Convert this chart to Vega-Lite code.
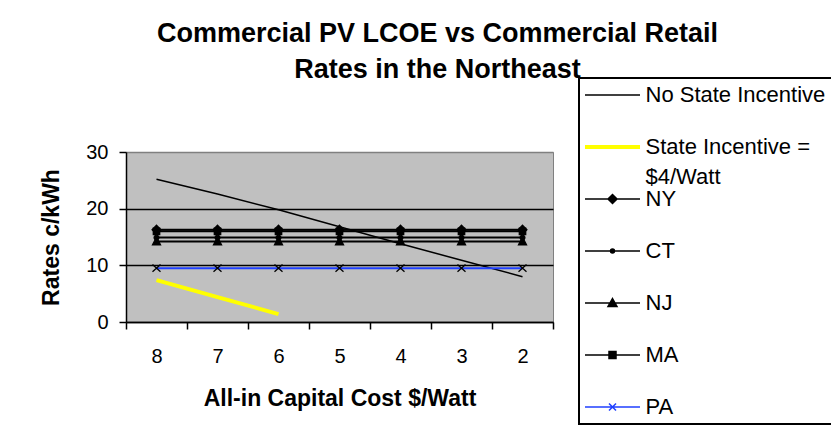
{
  "$schema": "https://vega.github.io/schema/vega-lite/v6.json",
  "width": 427,
  "height": 170,
  "autosize": {"type": "none"},
  "padding": {"left": 126, "top": 152, "right": 278, "bottom": 119},
  "background": "white",
  "title": {
    "text": ["Commercial PV LCOE vs Commercial Retail", "Rates in the Northeast"],
    "font": "Liberation Sans",
    "fontSize": 27,
    "fontWeight": "bold",
    "color": "black",
    "lineHeight": 36,
    "anchor": "middle",
    "frame": "group",
    "dx": 98,
    "offset": -7
  },
  "config": {
    "font": "Liberation Sans",
    "view": {"fill": "#C0C0C0", "stroke": "#808080", "strokeWidth": 1}
  },
  "data": {
    "values": [
      {"cost": 8, "series": "No State Incentive", "rate": 25.2},
      {"cost": 7, "series": "No State Incentive", "rate": 22.6},
      {"cost": 6, "series": "No State Incentive", "rate": 19.8},
      {"cost": 5, "series": "No State Incentive", "rate": 16.8},
      {"cost": 4, "series": "No State Incentive", "rate": 13.8},
      {"cost": 3, "series": "No State Incentive", "rate": 10.9},
      {"cost": 2, "series": "No State Incentive", "rate": 8.0},
      {"cost": 8, "series": "State Incentive = $4/Watt", "rate": 7.4},
      {"cost": 7, "series": "State Incentive = $4/Watt", "rate": 4.4},
      {"cost": 6, "series": "State Incentive = $4/Watt", "rate": 1.4},
      {"cost": 8, "series": "NY", "rate": 16.3},
      {"cost": 7, "series": "NY", "rate": 16.3},
      {"cost": 6, "series": "NY", "rate": 16.3},
      {"cost": 5, "series": "NY", "rate": 16.3},
      {"cost": 4, "series": "NY", "rate": 16.3},
      {"cost": 3, "series": "NY", "rate": 16.3},
      {"cost": 2, "series": "NY", "rate": 16.3},
      {"cost": 8, "series": "CT", "rate": 14.9},
      {"cost": 7, "series": "CT", "rate": 14.9},
      {"cost": 6, "series": "CT", "rate": 14.9},
      {"cost": 5, "series": "CT", "rate": 14.9},
      {"cost": 4, "series": "CT", "rate": 14.9},
      {"cost": 3, "series": "CT", "rate": 14.9},
      {"cost": 2, "series": "CT", "rate": 14.9},
      {"cost": 8, "series": "NJ", "rate": 14.2},
      {"cost": 7, "series": "NJ", "rate": 14.2},
      {"cost": 6, "series": "NJ", "rate": 14.2},
      {"cost": 5, "series": "NJ", "rate": 14.2},
      {"cost": 4, "series": "NJ", "rate": 14.2},
      {"cost": 3, "series": "NJ", "rate": 14.2},
      {"cost": 2, "series": "NJ", "rate": 14.2},
      {"cost": 8, "series": "MA", "rate": 16.0},
      {"cost": 7, "series": "MA", "rate": 16.0},
      {"cost": 6, "series": "MA", "rate": 16.0},
      {"cost": 5, "series": "MA", "rate": 16.0},
      {"cost": 4, "series": "MA", "rate": 16.0},
      {"cost": 3, "series": "MA", "rate": 16.0},
      {"cost": 2, "series": "MA", "rate": 16.0},
      {"cost": 8, "series": "PA", "rate": 9.5},
      {"cost": 7, "series": "PA", "rate": 9.5},
      {"cost": 6, "series": "PA", "rate": 9.5},
      {"cost": 5, "series": "PA", "rate": 9.5},
      {"cost": 4, "series": "PA", "rate": 9.5},
      {"cost": 3, "series": "PA", "rate": 9.5},
      {"cost": 2, "series": "PA", "rate": 9.5}
    ]
  },
  "encoding": {
    "x": {
      "field": "cost",
      "type": "ordinal",
      "sort": "descending",
      "bandPosition": 0.5,
      "scale": {"type": "band", "paddingInner": 0, "paddingOuter": 0},
      "axis": {
        "title": "All-in Capital Cost $/Watt",
        "tickBand": "extent",
        "labelAngle": 0,
        "grid": false,
        "domainColor": "black",
        "domainWidth": 1.5,
        "tickColor": "black",
        "tickWidth": 1.5,
        "tickSize": 7,
        "labelFont": "Liberation Sans",
        "labelFontSize": 20,
        "labelColor": "black",
        "labelPadding": 17,
        "titleFont": "Liberation Sans",
        "titleFontSize": 23,
        "titleFontWeight": "bold",
        "titleColor": "black",
        "titlePadding": 21
      }
    },
    "y": {
      "field": "rate",
      "type": "quantitative",
      "scale": {"domain": [0, 30], "nice": false},
      "axis": {
        "title": "Rates c/kWh",
        "values": [0, 10, 20, 30],
        "grid": true,
        "gridColor": {"condition": {"test": "datum.value === 30", "value": "#808080"}, "value": "black"},
        "gridWidth": 1.3,
        "domainColor": "black",
        "domainWidth": 1.5,
        "tickColor": "black",
        "tickWidth": 1.5,
        "tickSize": 7,
        "labelFont": "Liberation Sans",
        "labelFontSize": 20,
        "labelColor": "black",
        "labelPadding": 11,
        "titleFont": "Liberation Sans",
        "titleFontSize": 23,
        "titleFontWeight": "bold",
        "titleColor": "black",
        "titlePadding": 22
      }
    }
  },
  "layer": [
    {
      "mark": {"type": "line"},
      "encoding": {
        "color": {
          "field": "series",
          "type": "nominal",
          "scale": {
            "domain": ["No State Incentive", "State Incentive = $4/Watt", "NY", "CT", "NJ", "MA", "PA"],
            "range": ["black", "#FFFF00", "black", "black", "black", "black", "#2040FF"]
          },
          "legend": {
            "orient": "none",
            "legendX": 453,
            "legendY": -74,
            "title": "x",
            "titleOrient": "right",
            "titleOpacity": 0,
            "titlePadding": 20,
            "strokeColor": "black",
            "fillColor": "white",
            "padding": 6,
            "symbolSize": 100,
            "symbolOffset": 16.5,
            "labelOffset": 22,
            "labelFont": "Liberation Sans",
            "labelFontSize": 22,
            "labelColor": "black",
            "labelLimit": 500,
            "labelBaseline": "alphabetic",
            "gridAlign": "all",
            "rowPadding": -1,
            "labelExpr": "datum.label === 'State Incentive = $4/Watt' ? ['State Incentive =', '$4/Watt'] : datum.label",
            "encode": {
              "legend": {"update": {"strokeWidth": {"value": 2}}},
              "symbols": {
                "update": {
                  "shape": {"signal": "datum.value === 'NY' ? 'M-5.5,0H5.5M0,-0.9L0.9,0L0,0.9L-0.9,0Z' : datum.value === 'CT' ? 'M-5.5,0H5.5M0.4,0A0.4,0.4,0,1,1,-0.4,0A0.4,0.4,0,1,1,0.4,0Z' : datum.value === 'NJ' ? 'M-5.5,0H5.5M0,-0.9L0.9,0.7L-0.9,0.7Z' : datum.value === 'MA' ? 'M-5.5,0H5.5M-0.7,-0.7H0.7V0.7H-0.7Z' : datum.value === 'PA' ? 'M-5.5,0H5.5M-0.7,-0.7L0.7,0.7M-0.7,0.7L0.7,-0.7' : 'M-5.5,0H5.5'"},
                  "stroke": {"signal": "scale('color', datum.value)"},
                  "fill": {"value": "black"},
                  "strokeWidth": {"signal": "datum.value === 'State Incentive = $4/Watt' ? 4 : 1.5"},
                  "opacity": {"value": 1}
                }
              },
              "labels": {"update": {"dy": {"value": 7}, "lineHeight": {"value": 30}}}
            }
          }
        },
        "strokeWidth": {
          "condition": [
            {"test": "datum.series === 'State Incentive = $4/Watt'", "value": 4},
            {"test": "datum.series === 'No State Incentive'", "value": 1.5}
          ],
          "value": 2
        }
      }
    },
    {
      "transform": [{"filter": "indexof(['NY', 'CT', 'NJ', 'MA', 'PA'], datum.series) >= 0"}],
      "mark": {"type": "point", "filled": true, "fill": "black", "stroke": "black", "strokeWidth": 1.3, "opacity": 1, "size": 64},
      "encoding": {
        "shape": {
          "field": "series",
          "type": "nominal",
          "scale": {
            "domain": ["NY", "CT", "NJ", "MA", "PA"],
            "range": [
              "M0,-1.1L1.1,0L0,1.1L-1.1,0Z",
              "M0.6,0A0.6,0.6,0,1,1,-0.6,0A0.6,0.6,0,1,1,0.6,0Z",
              "M0,-1.1L1,0.8L-1,0.8Z",
              "M-0.8,-0.8H0.8V0.8H-0.8Z",
              "M-1,-0.9L1,0.9M-1,0.9L1,-0.9"
            ]
          },
          "legend": null
        }
      }
    }
  ]
}
